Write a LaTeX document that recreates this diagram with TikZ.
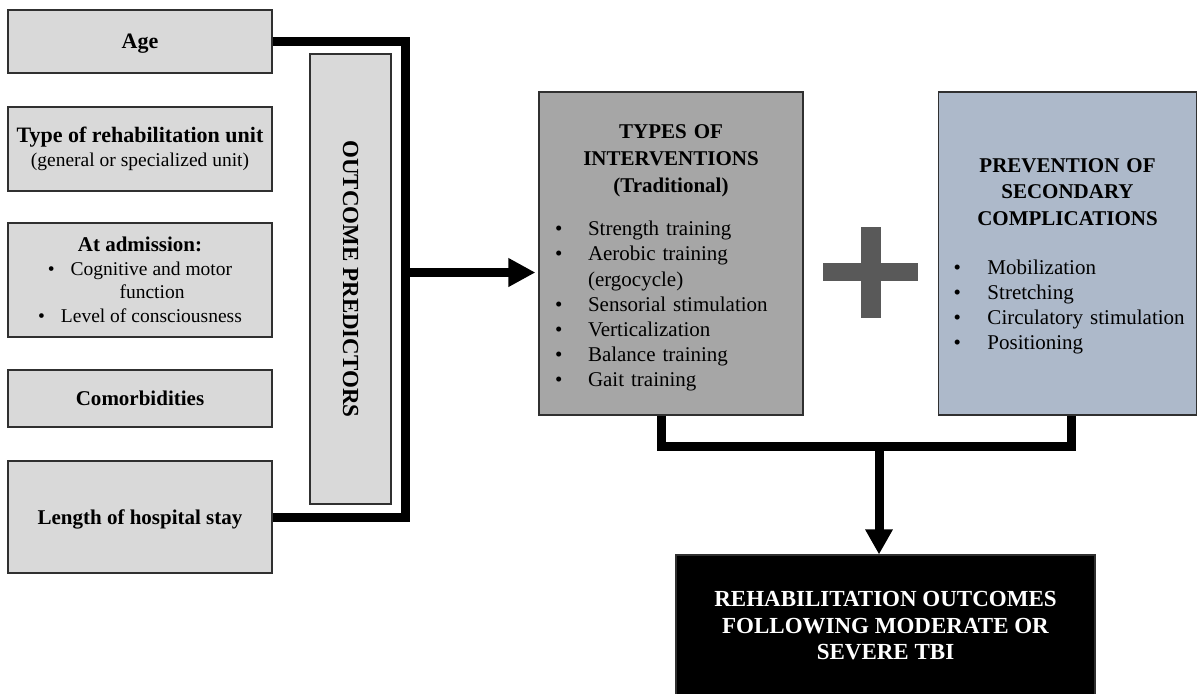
\documentclass[tikz,border=0pt]{standalone}
\usepackage{fontspec}
\setmainfont{Liberation Serif}
\usepackage{tikz}
\usetikzlibrary{arrows.meta,positioning,calc}

\definecolor{boxline}{HTML}{303030}
\definecolor{lightbox}{HTML}{D9D9D9}
\definecolor{midbox}{HTML}{A6A6A6}
\definecolor{bluebox}{HTML}{ADB9CA}
\definecolor{plusgray}{HTML}{595959}

\newcommand\hd[2][11]{{\fontsize{#1}{13.4}\selectfont\bfseries #2}}

\begin{document}
\begin{tikzpicture}[x=0.5pt, y=-0.5pt,
    every node/.style={font=\fontsize{10.5}{12.6}\selectfont},
    predbox/.style={draw=boxline, line width=0.6pt, fill=lightbox,
                    minimum width=132pt, align=center, inner sep=2pt},
    bigbox/.style={draw=boxline, line width=0.6pt, align=center,
                   inner sep=0pt},
    link/.style={line width=4.5pt},
    tip/.style={-{Triangle[length=13.5pt,width=13.5pt]}}
    ]
    \useasboundingbox (0,0) rectangle (1197,693);

    % Predictors -------------------------------------------------------
    \node[predbox, minimum height=31.5pt, text depth=0pt] (age)
        at (140,41.5) {\hd{Age}};
    \node[predbox, minimum height=42pt,
          font=\fontsize{9.75}{12}\selectfont] (unit) at (140,149)
        {\hd{Type of rehabilitation unit}\\(general or specialized unit)};
    \node[predbox, minimum height=57pt,
          font=\fontsize{9.75}{11.75}\selectfont] (admit) at (140,280)
        {\hd[10.5]{At admission:}\\
         \textbullet\hspace{8pt}Cognitive and motor\\
         \hspace*{12pt}function\\
         \textbullet\hspace{8pt}Level of consciousness};
    \node[predbox, minimum height=28.5pt, text depth=0pt] (comorb)
        at (140,398.5) {\hd[10.5]{Comorbidities}};
    \node[predbox, minimum height=56pt, text depth=0pt] (stay)
        at (140,517) {\hd[10.5]{Length of hospital stay}};
    \node[predbox, minimum width=225pt, minimum height=40.5pt,
          rotate=-90] (pred) at (350.5,279) {\hd[11.5]{OUTCOME PREDICTORS}};

    % Interventions ----------------------------------------------------
    \node[bigbox, fill=midbox, text width=132pt, minimum height=161.5pt]
        (types) at (671,253.5)
        {\rule{0pt}{13pt}\hd[10.5]{TYPES OF}\\[0.9pt]
         \hd[10.5]{INTERVENTIONS}\\[0.9pt]
         \hd[10.5]{(Traditional)}\\[9pt]
         \makebox[132pt][l]{\hspace{8pt}%
         \begin{tabular}[t]{@{}p{16.5pt}@{}l@{}}
         \textbullet & Strength training\\
         \textbullet & Aerobic training\\
                     & (ergocycle)\\
         \textbullet & Sensorial stimulation\\
         \textbullet & Verticalization\\
         \textbullet & Balance training\\
         \textbullet & Gait training
         \end{tabular}}};
    \node[bigbox, fill=bluebox, text width=129pt, minimum height=161.5pt]
        (prev) at (1067.5,253.5)
        {\rule{0pt}{11.5pt}\hd[10.5]{PREVENTION OF}\\[0.5pt]
         \hd[10.5]{SECONDARY}\\[0.5pt]
         \hd[10.5]{COMPLICATIONS}\\[12pt]
         \makebox[129pt][l]{\hspace{7.5pt}%
         \begin{tabular}[t]{@{}p{17pt}@{}l@{}}
         \textbullet & Mobilization\\
         \textbullet & Stretching\\
         \textbullet & Circulatory stimulation\\
         \textbullet & Positioning
         \end{tabular}}};

    % plus sign
    \fill[plusgray] (823,263) rectangle (918,281);
    \fill[plusgray] (861,227) rectangle (881,318);

    % Outcome ----------------------------------------------------------
    \node[bigbox, fill=black, text=white, minimum width=209.5pt,
          minimum height=71pt,
          font=\fontsize{11.5}{13.25}\selectfont\bfseries] (outcome)
        at (885.5,626)
        {REHABILITATION OUTCOMES\\FOLLOWING MODERATE OR\\SEVERE TBI};

    % Connectors -------------------------------------------------------
    \coordinate (join) at (405,272.5);
    \coordinate (merge) at (879,446.5);
    \draw[link] (age.east) -- (age.east -| join) -- (stay.east -| join)
        -- (stay.east);
    \draw[link, tip] (join) -- ($(join -| types.west)+(-3,0)$);
    \draw[link] ([xshift=-5pt]types.south) |- (merge)
        -| ([xshift=2pt]prev.south);
    \draw[link, -{Triangle[length=12.5pt,width=13pt]}] (merge)
        -- (merge |- outcome.north);
\end{tikzpicture}
\end{document}
